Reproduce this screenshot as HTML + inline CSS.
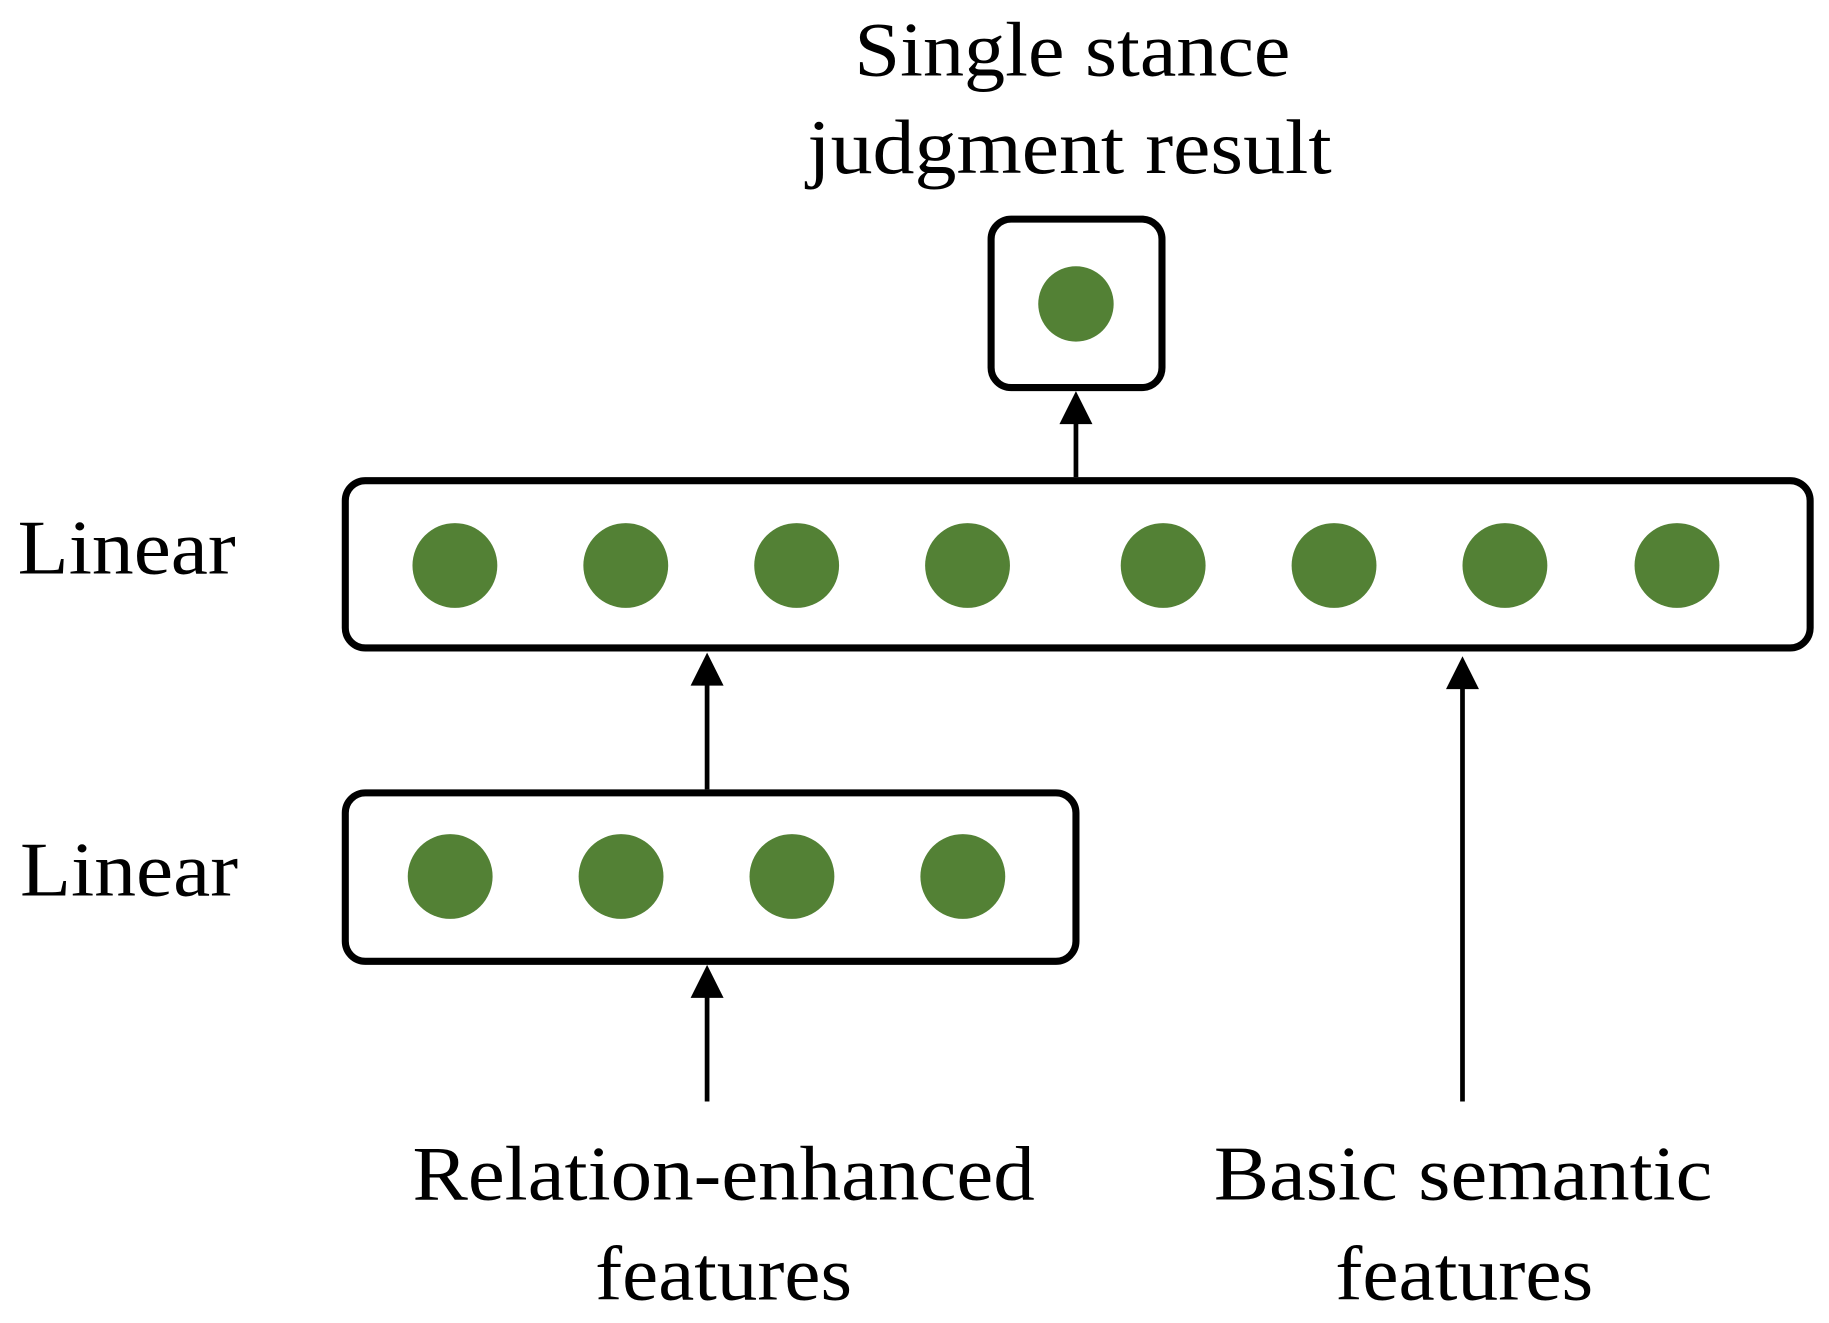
<!DOCTYPE html>
<html><head><meta charset="utf-8"><style>html,body{margin:0;padding:0;background:#fff}svg{display:block}</style></head>
<body>
<svg width="1829" height="1323" viewBox="0 0 1552 1123" preserveAspectRatio="none" xmlns="http://www.w3.org/2000/svg">
<g font-family="Liberation Serif, serif" font-size="66" fill="#000" lengthAdjust="spacingAndGlyphs">
<text x="725" y="64" textLength="370" lengthAdjust="spacingAndGlyphs">Single stance</text>
<text x="685" y="147" textLength="445" lengthAdjust="spacingAndGlyphs">judgment result</text>
<text x="15" y="487" textLength="185" lengthAdjust="spacingAndGlyphs">Linear</text>
<text x="17" y="760" textLength="185" lengthAdjust="spacingAndGlyphs">Linear</text>
<text x="350" y="1018" textLength="528" lengthAdjust="spacingAndGlyphs">Relation-enhanced</text>
<text x="505" y="1103" textLength="218" lengthAdjust="spacingAndGlyphs">features</text>
<text x="1030" y="1018" textLength="423" lengthAdjust="spacingAndGlyphs">Basic semantic</text>
<text x="1133" y="1103" textLength="219" lengthAdjust="spacingAndGlyphs">features</text>
</g>
<g fill="none" stroke="#000" stroke-width="6">
<rect x="841" y="186" width="145" height="143" rx="17"/>
<rect x="293" y="408" width="1243" height="142" rx="17"/>
<rect x="293" y="673" width="620" height="143" rx="17"/>
<line x1="913" y1="405" x2="913" y2="355" stroke-width="4"/>
<line x1="600" y1="670" x2="600" y2="578" stroke-width="4"/>
<line x1="1241" y1="935" x2="1241" y2="582" stroke-width="4"/>
<line x1="600" y1="935" x2="600" y2="843" stroke-width="4"/>
</g>
<g fill="#000">
<polygon points="913,332 899,360 927,360"/>
<polygon points="600,554 586,582 614,582"/>
<polygon points="1241,557 1227,585 1255,585"/>
<polygon points="600,819 586,847 614,847"/>
</g>
<g fill="#538135">
<circle cx="913" cy="258" r="32"/>
<circle cx="386" cy="480" r="36"/><circle cx="531" cy="480" r="36"/><circle cx="676" cy="480" r="36"/><circle cx="821" cy="480" r="36"/>
<circle cx="987" cy="480" r="36"/><circle cx="1132" cy="480" r="36"/><circle cx="1277" cy="480" r="36"/><circle cx="1423" cy="480" r="36"/>
<circle cx="382" cy="744" r="36"/><circle cx="527" cy="744" r="36"/><circle cx="672" cy="744" r="36"/><circle cx="817" cy="744" r="36"/>
</g>
</svg>
</body></html>
